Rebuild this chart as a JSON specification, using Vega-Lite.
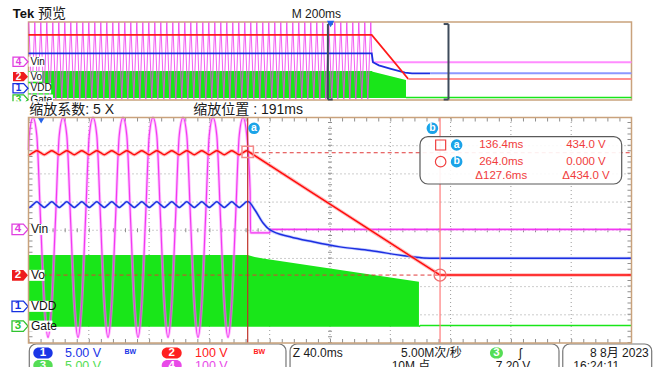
{
"$schema": "https://vega.github.io/schema/vega-lite/v6.json",
"width": 657, "height": 367, "autosize": "none", "padding": 0, "background": "#ffffff",
"config": {"view": {"stroke": null}, "font": "Liberation Sans, Noto Sans CJK SC"},
"datasets": {
"vin": [{"t":-9,"v":2.85},{"t":-8.49,"v":3.37},{"t":-6,"v":4.0},{"t":-3.51,"v":3.37},{"t":-1.03,"v":0.4},{"t":1.46,"v":-2.57},{"t":3.95,"v":-3.8},{"t":6.44,"v":-2.57},{"t":8.93,"v":0.4},{"t":11.41,"v":3.37},{"t":13.9,"v":4.0},{"t":16.39,"v":3.37},{"t":18.88,"v":0.4},{"t":21.36,"v":-2.57},{"t":23.85,"v":-3.8},{"t":26.34,"v":-2.57},{"t":28.83,"v":0.4},{"t":31.31,"v":3.37},{"t":33.8,"v":4.0},{"t":36.29,"v":3.37},{"t":38.78,"v":0.4},{"t":41.26,"v":-2.57},{"t":43.75,"v":-3.8},{"t":46.24,"v":-2.57},{"t":48.73,"v":0.4},{"t":51.21,"v":3.37},{"t":53.7,"v":4.0},{"t":56.19,"v":3.37},{"t":58.68,"v":0.4},{"t":61.16,"v":-2.57},{"t":63.65,"v":-3.8},{"t":66.14,"v":-2.57},{"t":68.63,"v":0.4},{"t":71.11,"v":3.37},{"t":73.6,"v":4.0},{"t":76.09,"v":3.37},{"t":78.58,"v":0.4},{"t":81.06,"v":-2.57},{"t":83.55,"v":-3.8},{"t":86.04,"v":-2.57},{"t":88.53,"v":0.4},{"t":91.01,"v":3.37},{"t":93.5,"v":4.0},{"t":95.99,"v":3.37},{"t":98.48,"v":0.4},{"t":100.96,"v":-2.57},{"t":103.45,"v":-3.8},{"t":105.94,"v":-2.57},{"t":108.43,"v":0.4},{"t":110.91,"v":3.37},{"t":113.4,"v":4.0},{"t":115.89,"v":3.37},{"t":118.38,"v":0.4},{"t":120.86,"v":-2.57},{"t":123.35,"v":-3.8},{"t":125.84,"v":-2.57},{"t":128.33,"v":0.4},{"t":130.81,"v":3.37},{"t":133.3,"v":4.0},{"t":135.79,"v":3.37},{"t":138,"v":1.4},{"t":138.3,"v":-0.09},{"t":151,"v":-0.09},{"t":151.3,"v":0.03},{"t":391,"v":0.03}],
"vo": [{"t":-9,"v":2.7},{"t":-8.49,"v":2.68},{"t":-6,"v":2.75},{"t":-3.51,"v":2.82},{"t":-1.03,"v":2.75},{"t":1.46,"v":2.68},{"t":3.95,"v":2.75},{"t":6.44,"v":2.82},{"t":8.93,"v":2.75},{"t":11.41,"v":2.68},{"t":13.9,"v":2.75},{"t":16.39,"v":2.82},{"t":18.88,"v":2.75},{"t":21.36,"v":2.68},{"t":23.85,"v":2.75},{"t":26.34,"v":2.82},{"t":28.83,"v":2.75},{"t":31.31,"v":2.68},{"t":33.8,"v":2.75},{"t":36.29,"v":2.82},{"t":38.78,"v":2.75},{"t":41.26,"v":2.68},{"t":43.75,"v":2.75},{"t":46.24,"v":2.82},{"t":48.73,"v":2.75},{"t":51.21,"v":2.68},{"t":53.7,"v":2.75},{"t":56.19,"v":2.82},{"t":58.68,"v":2.75},{"t":61.16,"v":2.68},{"t":63.65,"v":2.75},{"t":66.14,"v":2.82},{"t":68.63,"v":2.75},{"t":71.11,"v":2.68},{"t":73.6,"v":2.75},{"t":76.09,"v":2.82},{"t":78.58,"v":2.75},{"t":81.06,"v":2.68},{"t":83.55,"v":2.75},{"t":86.04,"v":2.82},{"t":88.53,"v":2.75},{"t":91.01,"v":2.68},{"t":93.5,"v":2.75},{"t":95.99,"v":2.82},{"t":98.48,"v":2.75},{"t":100.96,"v":2.68},{"t":103.45,"v":2.75},{"t":105.94,"v":2.82},{"t":108.43,"v":2.75},{"t":110.91,"v":2.68},{"t":113.4,"v":2.75},{"t":115.89,"v":2.82},{"t":118.38,"v":2.75},{"t":120.86,"v":2.68},{"t":123.35,"v":2.75},{"t":125.84,"v":2.82},{"t":128.33,"v":2.75},{"t":130.81,"v":2.68},{"t":133.3,"v":2.75},{"t":135.79,"v":2.82},{"t":136.4,"v":2.81},{"t":137,"v":2.789},{"t":200,"v":0.617},{"t":263.5,"v":-1.573},{"t":264,"v":-1.59},{"t":391,"v":-1.59}],
"vdd": [{"t":-9,"v":0.82},{"t":-8.49,"v":0.81},{"t":-6,"v":0.91},{"t":-3.51,"v":1.01},{"t":-1.03,"v":0.91},{"t":1.46,"v":0.81},{"t":3.95,"v":0.91},{"t":6.44,"v":1.01},{"t":8.93,"v":0.91},{"t":11.41,"v":0.81},{"t":13.9,"v":0.91},{"t":16.39,"v":1.01},{"t":18.88,"v":0.91},{"t":21.36,"v":0.81},{"t":23.85,"v":0.91},{"t":26.34,"v":1.01},{"t":28.83,"v":0.91},{"t":31.31,"v":0.81},{"t":33.8,"v":0.91},{"t":36.29,"v":1.01},{"t":38.78,"v":0.91},{"t":41.26,"v":0.81},{"t":43.75,"v":0.91},{"t":46.24,"v":1.01},{"t":48.73,"v":0.91},{"t":51.21,"v":0.81},{"t":53.7,"v":0.91},{"t":56.19,"v":1.01},{"t":58.68,"v":0.91},{"t":61.16,"v":0.81},{"t":63.65,"v":0.91},{"t":66.14,"v":1.01},{"t":68.63,"v":0.91},{"t":71.11,"v":0.81},{"t":73.6,"v":0.91},{"t":76.09,"v":1.01},{"t":78.58,"v":0.91},{"t":81.06,"v":0.81},{"t":83.55,"v":0.91},{"t":86.04,"v":1.01},{"t":88.53,"v":0.91},{"t":91.01,"v":0.81},{"t":93.5,"v":0.91},{"t":95.99,"v":1.01},{"t":98.48,"v":0.91},{"t":100.96,"v":0.81},{"t":103.45,"v":0.91},{"t":105.94,"v":1.01},{"t":108.43,"v":0.91},{"t":110.91,"v":0.81},{"t":113.4,"v":0.91},{"t":115.89,"v":1.01},{"t":118.38,"v":0.91},{"t":120.86,"v":0.81},{"t":123.35,"v":0.91},{"t":125.84,"v":1.01},{"t":128.33,"v":0.91},{"t":130.81,"v":0.81},{"t":133.3,"v":0.91},{"t":135.79,"v":1.01},{"t":136.8,"v":1.01},{"t":141.2,"v":0.72},{"t":146.6,"v":0.26},{"t":151.2,"v":0.01},{"t":164.5,"v":-0.23},{"t":179.7,"v":-0.41},{"t":197.6,"v":-0.59},{"t":217.5,"v":-0.72},{"t":244.1,"v":-0.93},{"t":257.3,"v":-0.99},{"t":391,"v":-0.99}],
"gate": [{"t":-9,"v":-0.88,"b":-3.42},{"t":136.4,"v":-0.88,"b":-3.42},{"t":141,"v":-0.95,"b":-3.42},{"t":146.6,"v":-1.0,"b":-3.42},{"t":250,"v":-1.83,"b":-3.42}],
"gateT": [{"t":250,"v":-3.42},{"t":251,"v":-3.38},{"t":391,"v":-3.38}],
"grid": [{"t0":31,"t1":31,"v0":-4,"v1":4},{"t0":71,"t1":71,"v0":-4,"v1":4},{"t0":111,"t1":111,"v0":-4,"v1":4},{"t0":151,"t1":151,"v0":-4,"v1":4},{"t0":191,"t1":191,"v0":-4,"v1":4},{"t0":231,"t1":231,"v0":-4,"v1":4},{"t0":271,"t1":271,"v0":-4,"v1":4},{"t0":311,"t1":311,"v0":-4,"v1":4},{"t0":351,"t1":351,"v0":-4,"v1":4},{"t0":-9,"t1":391,"v0":-3,"v1":-3},{"t0":-9,"t1":391,"v0":-2,"v1":-2},{"t0":-9,"t1":391,"v0":-1,"v1":-1},{"t0":-9,"t1":391,"v0":0,"v1":0},{"t0":-9,"t1":391,"v0":1,"v1":1},{"t0":-9,"t1":391,"v0":2,"v1":2},{"t0":-9,"t1":391,"v0":3,"v1":3}],
"tickH": [{"t0":-9,"t1":391,"v0":0,"v1":0},{"t0":-9,"t1":391,"v0":3.93,"v1":3.93},{"t0":-9,"t1":391,"v0":-3.93,"v1":-3.93}],
"tickV": [{"t0":191,"t1":191,"v0":-4,"v1":4},{"t0":-7.67,"t1":-7.67,"v0":-4,"v1":4},{"t0":389.67,"t1":389.67,"v0":-4,"v1":4}],
"frameM": [{"t0":-9,"t1":391,"v0":-4,"v1":4}],
"curA": [{"t0":136.4,"t1":136.4,"v0":-4,"v1":4}],
"curB": [{"t0":264,"t1":264,"v0":-4,"v1":4}],
"dashR": [{"t0":-9,"t1":264,"v0":-1.59,"v1":-1.59},{"t0":136.4,"t1":391,"v0":2.75,"v1":2.75}],
"mkSq": [{"t":136.4,"v":2.78}],
"mkCi": [{"t":264,"v":-1.59}],
"rbox": [{"t0":250.7,"t1":384.5,"v0":1.641,"v1":3.319}],
"rSq": [{"t":264.4,"v":3.024}],
"rCi": [{"t":264.4,"v":2.432}],
"trigM": [{"t":-0.6,"v":3.9}],
"chan": [{"ch":"4","name":"Vin","t":-9,"v":0.03,"te":4.9,"ot":-1002,"ov":-0.07,"ote":-954},{"ch":"2","name":"Vo","t":-9,"v":-1.6,"te":1.6,"ot":-1002,"ov":-1.61,"ote":-957},{"ch":"1","name":"VDD","t":-9,"v":-2.7,"te":6.3,"ot":-1002,"ov":-2.8,"ote":-927},{"ch":"3","name":"Gate","t":-9,"v":-3.4,"te":6.9,"ot":-1002,"ov":-3.95,"ote":-921}],
"txt12": [{"t":166.3,"v":-4.355,"s":"Z 40.0ms"},{"t":238.1,"v":-4.355,"s":"5.00M次/秒"},{"t":231.9,"v":-4.8,"s":"10M 点"},{"t":300.9,"v":-4.8,"s":"7.20 V"},{"t":316.4,"v":-4.355,"s":"ʃ"},{"t":363.5,"v":-4.355,"s":"8 8月 2023"},{"t":352.4,"v":-4.8,"s":"16:24:11"},{"t":165.6,"v":7.672,"s":"M 200ms"}],
"txt14": [{"t":-8.47,"v":4.266,"s":"缩放系数: 5 X"},{"t":100.3,"v":4.266,"s":"缩放位置 :  191ms"},{"t":-2.7,"v":7.672,"s":"预览"}],
"tek": [{"t":-19.48,"v":7.672,"s":"Tek"}],
"stat": [{"ch":"1","t":15.2,"v":-4.355,"s":"5.00 V"},{"ch":"2","t":101.45,"v":-4.355,"s":"100 V"},{"ch":"3","t":15.2,"v":-4.8,"s":"5.00 V"},{"ch":"4","t":101.45,"v":-4.8,"s":"100 V"}],
"bw": [{"ch":"1","t":58.5,"v":-4.33,"s":"BW"},{"ch":"2","t":144.1,"v":-4.33,"s":"BW"}],
"pill": [{"ch":"1","t0":-5.82,"t1":7.05,"v0":-4.16,"v1":-4.55,"tc":0.62,"vc":-4.355,"n":"1"},{"ch":"2","t0":79.36,"t1":92.63,"v0":-4.16,"v1":-4.55,"tc":86,"vc":-4.355,"n":"2"},{"ch":"3","t0":-5.82,"t1":7.05,"v0":-4.603,"v1":-4.994,"tc":0.62,"vc":-4.8,"n":"3"},{"ch":"4","t0":79.36,"t1":92.63,"v0":-4.603,"v1":-4.994,"tc":86,"vc":-4.8,"n":"4"},{"ch":"3","t0":297.1,"t1":305.7,"v0":-4.16,"v1":-4.55,"tc":301.4,"vc":-4.355,"n":"3"}],
"sbox": [{"t0":-8.47,"t1":161.8,"v0":-4.035,"v1":-5.67},{"t0":164.5,"t1":342.9,"v0":-4.035,"v1":-5.67},{"t0":345.4,"t1":404.4,"v0":-4.035,"v1":-5.67}],
"rd": [{"t":304.6,"v":3.024,"s":"136.4ms"},{"t":360.8,"v":3.024,"s":"434.0 V"},{"t":304.6,"v":2.432,"s":"264.0ms"},{"t":360.8,"v":2.432,"s":"0.000 V"},{"t":304.6,"v":1.925,"s":"Δ127.6ms"},{"t":360.8,"v":1.925,"s":"Δ434.0 V"}],
"cl": [{"t":140.6,"v":3.617,"s":"a"},{"t":258.9,"v":3.617,"s":"b"},{"t":275,"v":3.024,"s":"a"},{"t":275,"v":2.432,"s":"b"}],
"frameO": [{"t0":-1002,"t1":998,"v0":-4,"v1":4}],
"cover": [{"t0":-1100,"t1":1100,"v0":-4.12,"v1":-5.72}],
"trigO": [{"t":0,"v":3.8}],
"ovVin": [{"t":-1001,"v":3.95},{"t":-991.05,"v":-3.9},{"t":-981.1,"v":3.95},{"t":-971.15,"v":-3.9},{"t":-961.2,"v":3.95},{"t":-951.25,"v":-3.9},{"t":-941.3,"v":3.95},{"t":-931.35,"v":-3.9},{"t":-921.4,"v":3.95},{"t":-911.45,"v":-3.9},{"t":-901.5,"v":3.95},{"t":-891.55,"v":-3.9},{"t":-881.6,"v":3.95},{"t":-871.65,"v":-3.9},{"t":-861.7,"v":3.95},{"t":-851.75,"v":-3.9},{"t":-841.8,"v":3.95},{"t":-831.85,"v":-3.9},{"t":-821.9,"v":3.95},{"t":-811.95,"v":-3.9},{"t":-802,"v":3.95},{"t":-792.05,"v":-3.9},{"t":-782.1,"v":3.95},{"t":-772.15,"v":-3.9},{"t":-762.2,"v":3.95},{"t":-752.25,"v":-3.9},{"t":-742.3,"v":3.95},{"t":-732.35,"v":-3.9},{"t":-722.4,"v":3.95},{"t":-712.45,"v":-3.9},{"t":-702.5,"v":3.95},{"t":-692.55,"v":-3.9},{"t":-682.6,"v":3.95},{"t":-672.65,"v":-3.9},{"t":-662.7,"v":3.95},{"t":-652.75,"v":-3.9},{"t":-642.8,"v":3.95},{"t":-632.85,"v":-3.9},{"t":-622.9,"v":3.95},{"t":-612.95,"v":-3.9},{"t":-603,"v":3.95},{"t":-593.05,"v":-3.9},{"t":-583.1,"v":3.95},{"t":-573.15,"v":-3.9},{"t":-563.2,"v":3.95},{"t":-553.25,"v":-3.9},{"t":-543.3,"v":3.95},{"t":-533.35,"v":-3.9},{"t":-523.4,"v":3.95},{"t":-513.45,"v":-3.9},{"t":-503.5,"v":3.95},{"t":-493.55,"v":-3.9},{"t":-483.6,"v":3.95},{"t":-473.65,"v":-3.9},{"t":-463.7,"v":3.95},{"t":-453.75,"v":-3.9},{"t":-443.8,"v":3.95},{"t":-433.85,"v":-3.9},{"t":-423.9,"v":3.95},{"t":-413.95,"v":-3.9},{"t":-404,"v":3.95},{"t":-394.05,"v":-3.9},{"t":-384.1,"v":3.95},{"t":-374.15,"v":-3.9},{"t":-364.2,"v":3.95},{"t":-354.25,"v":-3.9},{"t":-344.3,"v":3.95},{"t":-334.35,"v":-3.9},{"t":-324.4,"v":3.95},{"t":-314.45,"v":-3.9},{"t":-304.5,"v":3.95},{"t":-294.55,"v":-3.9},{"t":-284.6,"v":3.95},{"t":-274.65,"v":-3.9},{"t":-264.7,"v":3.95},{"t":-254.75,"v":-3.9},{"t":-244.8,"v":3.95},{"t":-234.85,"v":-3.9},{"t":-224.9,"v":3.95},{"t":-214.95,"v":-3.9},{"t":-205,"v":3.95},{"t":-195.05,"v":-3.9},{"t":-185.1,"v":3.95},{"t":-175.15,"v":-3.9},{"t":-165.2,"v":3.95},{"t":-155.25,"v":-3.9},{"t":-145.3,"v":3.95},{"t":-135.35,"v":-3.9},{"t":-125.4,"v":3.95},{"t":-115.45,"v":-3.9},{"t":-105.5,"v":3.95},{"t":-95.55,"v":-3.9},{"t":-85.6,"v":3.95},{"t":-75.65,"v":-3.9},{"t":-65.7,"v":3.95},{"t":-55.75,"v":-3.9},{"t":-45.8,"v":3.95},{"t":-35.85,"v":-3.9},{"t":-25.9,"v":3.95},{"t":-15.95,"v":-3.9},{"t":-6,"v":3.95},{"t":3.95,"v":-3.9},{"t":13.9,"v":3.95},{"t":23.85,"v":-3.9},{"t":33.8,"v":3.95},{"t":43.75,"v":-3.9},{"t":53.7,"v":3.95},{"t":63.65,"v":-3.9},{"t":73.6,"v":3.95},{"t":83.55,"v":-3.9},{"t":93.5,"v":3.95},{"t":103.45,"v":-3.9},{"t":113.4,"v":3.95},{"t":123.35,"v":-3.9},{"t":133.3,"v":3.95},{"t":136.4,"v":1.0},{"t":138.3,"v":-0.13}],
"ovVinT": [{"t":138.3,"v":-0.13},{"t":998,"v":-0.13}],
"ovVo": [{"t":-1002,"v":2.67},{"t":136.4,"v":2.67},{"t":257.7,"v":-1.85}],
"ovVoT": [{"t":257.7,"v":-1.85},{"t":998,"v":-1.85}],
"ovVdd": [{"t":-1002,"v":0.79},{"t":136.4,"v":0.79},{"t":140.6,"v":-0.13},{"t":160,"v":-0.45},{"t":200,"v":-0.8},{"t":246.8,"v":-1.2},{"t":270,"v":-1.26},{"t":330,"v":-1.26}],
"ovVddT": [{"t":330,"v":-1.26},{"t":998,"v":-1.26}],
"ovGate": [{"t":-1002,"v":-1.03,"b":-3.8},{"t":136.4,"v":-1.03,"b":-3.8},{"t":140,"v":-1.1,"b":-3.8},{"t":250,"v":-1.95,"b":-3.8}],
"ovGateT": [{"t":250,"v":-3.74},{"t":998,"v":-3.74}],
"brk": [{"t0":-9,"t1":-9,"v0":-3.95,"v1":3.79},{"t0":-9,"t1":7,"v0":3.79,"v1":3.79},{"t0":-9,"t1":7,"v0":-3.95,"v1":-3.95},{"t0":391,"t1":391,"v0":-3.95,"v1":3.79},{"t0":375,"t1":391,"v0":3.79,"v1":3.79},{"t0":375,"t1":391,"v0":-3.95,"v1":-3.95}]
},
"resolve": {"scale": {"x": "independent", "y": "independent"}},
"layer": [
{"data": {"name": "frameO"}, "mark": {"type": "rect", "fill": "#ffffff", "stroke": "#c9a27c", "strokeWidth": 1.5}, "encoding": {"x": {"field": "t0", "type": "quantitative", "scale": {"domain": [-1002, 998], "range": [28.5, 631.5], "nice": false, "zero": false}, "axis": null}, "x2": {"field": "t1"}, "y": {"field": "v0", "type": "quantitative", "scale": {"domain": [-4, 4], "range": [100, 22], "nice": false, "zero": false}, "axis": null}, "y2": {"field": "v1"}}},
{"data": {"name": "ovGate"}, "mark": {"type": "area", "color": "#19e619"}, "encoding": {"x": {"field": "t", "type": "quantitative", "scale": {"domain": [-1002, 998], "range": [28.5, 631.5], "nice": false, "zero": false}, "axis": null}, "y": {"field": "v", "type": "quantitative", "scale": {"domain": [-4, 4], "range": [100, 22], "nice": false, "zero": false}, "axis": null}, "y2": {"field": "b"}}},
{"data": {"name": "ovGateT"}, "mark": {"type": "line", "color": "#19e619", "strokeWidth": 1.5}, "encoding": {"x": {"field": "t", "type": "quantitative", "scale": {"domain": [-1002, 998], "range": [28.5, 631.5], "nice": false, "zero": false}, "axis": null}, "y": {"field": "v", "type": "quantitative", "scale": {"domain": [-4, 4], "range": [100, 22], "nice": false, "zero": false}, "axis": null}}},
{"data": {"name": "ovVin"}, "mark": {"type": "line", "color": "#f040f0", "strokeWidth": 1, "opacity": 0.85}, "encoding": {"x": {"field": "t", "type": "quantitative", "scale": {"domain": [-1002, 998], "range": [28.5, 631.5], "nice": false, "zero": false}, "axis": null}, "y": {"field": "v", "type": "quantitative", "scale": {"domain": [-4, 4], "range": [100, 22], "nice": false, "zero": false}, "axis": null}}},
{"data": {"name": "ovVinT"}, "mark": {"type": "line", "color": "#ff8cff", "strokeWidth": 2}, "encoding": {"x": {"field": "t", "type": "quantitative", "scale": {"domain": [-1002, 998], "range": [28.5, 631.5], "nice": false, "zero": false}, "axis": null}, "y": {"field": "v", "type": "quantitative", "scale": {"domain": [-4, 4], "range": [100, 22], "nice": false, "zero": false}, "axis": null}}},
{"data": {"name": "ovVdd"}, "mark": {"type": "line", "color": "#1c2fe0", "strokeWidth": 1.8}, "encoding": {"x": {"field": "t", "type": "quantitative", "scale": {"domain": [-1002, 998], "range": [28.5, 631.5], "nice": false, "zero": false}, "axis": null}, "y": {"field": "v", "type": "quantitative", "scale": {"domain": [-4, 4], "range": [100, 22], "nice": false, "zero": false}, "axis": null}}},
{"data": {"name": "ovVddT"}, "mark": {"type": "line", "color": "#8c98ff", "strokeWidth": 2}, "encoding": {"x": {"field": "t", "type": "quantitative", "scale": {"domain": [-1002, 998], "range": [28.5, 631.5], "nice": false, "zero": false}, "axis": null}, "y": {"field": "v", "type": "quantitative", "scale": {"domain": [-4, 4], "range": [100, 22], "nice": false, "zero": false}, "axis": null}}},
{"data": {"name": "ovVo"}, "mark": {"type": "line", "color": "#ff1a1a", "strokeWidth": 1.8}, "encoding": {"x": {"field": "t", "type": "quantitative", "scale": {"domain": [-1002, 998], "range": [28.5, 631.5], "nice": false, "zero": false}, "axis": null}, "y": {"field": "v", "type": "quantitative", "scale": {"domain": [-4, 4], "range": [100, 22], "nice": false, "zero": false}, "axis": null}}},
{"data": {"name": "ovVoT"}, "mark": {"type": "line", "color": "#ff9090", "strokeWidth": 2}, "encoding": {"x": {"field": "t", "type": "quantitative", "scale": {"domain": [-1002, 998], "range": [28.5, 631.5], "nice": false, "zero": false}, "axis": null}, "y": {"field": "v", "type": "quantitative", "scale": {"domain": [-4, 4], "range": [100, 22], "nice": false, "zero": false}, "axis": null}}},
{"data": {"name": "brk"}, "mark": {"type": "rule", "color": "#3e4b5b", "strokeWidth": 2}, "encoding": {"x": {"field": "t0", "type": "quantitative", "scale": {"domain": [-1002, 998], "range": [28.5, 631.5], "nice": false, "zero": false}, "axis": null}, "x2": {"field": "t1"}, "y": {"field": "v0", "type": "quantitative", "scale": {"domain": [-4, 4], "range": [100, 22], "nice": false, "zero": false}, "axis": null}, "y2": {"field": "v1"}}},
{"data": {"name": "trigO"}, "mark": {"type": "point", "shape": "triangle-down", "size": 55, "filled": true, "color": "#2563eb", "opacity": 1}, "encoding": {"x": {"field": "t", "type": "quantitative", "scale": {"domain": [-1002, 998], "range": [28.5, 631.5], "nice": false, "zero": false}, "axis": null}, "y": {"field": "v", "type": "quantitative", "scale": {"domain": [-4, 4], "range": [100, 22], "nice": false, "zero": false}, "axis": null}}},
{"data": {"name": "chan"}, "mark": {"type": "rule", "color": "#ffffff", "strokeWidth": 10}, "encoding": {"x": {"field": "ot", "type": "quantitative", "scale": {"domain": [-1002, 998], "range": [28.5, 631.5], "nice": false, "zero": false}, "axis": null}, "x2": {"field": "ote"}, "y": {"field": "ov", "type": "quantitative", "scale": {"domain": [-4, 4], "range": [100, 22], "nice": false, "zero": false}, "axis": null}}},
{"data": {"name": "chan"}, "mark": {"type": "text", "align": "left", "baseline": "middle", "fontSize": 10, "color": "#111111", "dx": 2}, "encoding": {"x": {"field": "ot", "type": "quantitative", "scale": {"domain": [-1002, 998], "range": [28.5, 631.5], "nice": false, "zero": false}, "axis": null}, "y": {"field": "ov", "type": "quantitative", "scale": {"domain": [-4, 4], "range": [100, 22], "nice": false, "zero": false}, "axis": null}, "text": {"field": "name"}}},
{"data": {"name": "chan"}, "transform": [{"filter": "datum.ch == '4'"}], "mark": {"type": "point", "shape": "M-1,-0.62L0.42,-0.62L1,0L0.42,0.62L-1,0.62Z", "size": 225, "filled": true, "fill": "#ffffff", "stroke": "#e03ee0", "strokeWidth": 1.3, "opacity": 1, "xOffset": -8}, "encoding": {"x": {"field": "ot", "type": "quantitative", "scale": {"domain": [-1002, 998], "range": [28.5, 631.5], "nice": false, "zero": false}, "axis": null}, "y": {"field": "ov", "type": "quantitative", "scale": {"domain": [-4, 4], "range": [100, 22], "nice": false, "zero": false}, "axis": null}}},
{"data": {"name": "chan"}, "transform": [{"filter": "datum.ch == '1'"}], "mark": {"type": "point", "shape": "M-1,-0.62L0.42,-0.62L1,0L0.42,0.62L-1,0.62Z", "size": 225, "filled": true, "fill": "#ffffff", "stroke": "#1530e0", "strokeWidth": 1.3, "opacity": 1, "xOffset": -8}, "encoding": {"x": {"field": "ot", "type": "quantitative", "scale": {"domain": [-1002, 998], "range": [28.5, 631.5], "nice": false, "zero": false}, "axis": null}, "y": {"field": "ov", "type": "quantitative", "scale": {"domain": [-4, 4], "range": [100, 22], "nice": false, "zero": false}, "axis": null}}},
{"data": {"name": "chan"}, "transform": [{"filter": "datum.ch == '3'"}], "mark": {"type": "point", "shape": "M-1,-0.62L0.42,-0.62L1,0L0.42,0.62L-1,0.62Z", "size": 225, "filled": true, "fill": "#ffffff", "stroke": "#2fc42f", "strokeWidth": 1.3, "opacity": 1, "xOffset": -8}, "encoding": {"x": {"field": "ot", "type": "quantitative", "scale": {"domain": [-1002, 998], "range": [28.5, 631.5], "nice": false, "zero": false}, "axis": null}, "y": {"field": "ov", "type": "quantitative", "scale": {"domain": [-4, 4], "range": [100, 22], "nice": false, "zero": false}, "axis": null}}},
{"data": {"name": "chan"}, "transform": [{"filter": "datum.ch == '2'"}], "mark": {"type": "point", "shape": "M-1,-0.62L0.42,-0.62L1,0L0.42,0.62L-1,0.62Z", "size": 225, "filled": true, "color": "#ee1c1c", "opacity": 1, "xOffset": -8}, "encoding": {"x": {"field": "ot", "type": "quantitative", "scale": {"domain": [-1002, 998], "range": [28.5, 631.5], "nice": false, "zero": false}, "axis": null}, "y": {"field": "ov", "type": "quantitative", "scale": {"domain": [-4, 4], "range": [100, 22], "nice": false, "zero": false}, "axis": null}}},
{"data": {"name": "chan"}, "transform": [{"filter": "datum.ch == '4'"}], "mark": {"type": "text", "align": "center", "baseline": "middle", "fontSize": 10, "fontWeight": "bold", "color": "#e03ee0", "dx": -10}, "encoding": {"x": {"field": "ot", "type": "quantitative", "scale": {"domain": [-1002, 998], "range": [28.5, 631.5], "nice": false, "zero": false}, "axis": null}, "y": {"field": "ov", "type": "quantitative", "scale": {"domain": [-4, 4], "range": [100, 22], "nice": false, "zero": false}, "axis": null}, "text": {"field": "ch"}}},
{"data": {"name": "chan"}, "transform": [{"filter": "datum.ch == '1'"}], "mark": {"type": "text", "align": "center", "baseline": "middle", "fontSize": 10, "fontWeight": "bold", "color": "#1530e0", "dx": -10}, "encoding": {"x": {"field": "ot", "type": "quantitative", "scale": {"domain": [-1002, 998], "range": [28.5, 631.5], "nice": false, "zero": false}, "axis": null}, "y": {"field": "ov", "type": "quantitative", "scale": {"domain": [-4, 4], "range": [100, 22], "nice": false, "zero": false}, "axis": null}, "text": {"field": "ch"}}},
{"data": {"name": "chan"}, "transform": [{"filter": "datum.ch == '3'"}], "mark": {"type": "text", "align": "center", "baseline": "middle", "fontSize": 10, "fontWeight": "bold", "color": "#2fc42f", "dx": -10}, "encoding": {"x": {"field": "ot", "type": "quantitative", "scale": {"domain": [-1002, 998], "range": [28.5, 631.5], "nice": false, "zero": false}, "axis": null}, "y": {"field": "ov", "type": "quantitative", "scale": {"domain": [-4, 4], "range": [100, 22], "nice": false, "zero": false}, "axis": null}, "text": {"field": "ch"}}},
{"data": {"name": "chan"}, "transform": [{"filter": "datum.ch == '2'"}], "mark": {"type": "text", "align": "center", "baseline": "middle", "fontSize": 10, "fontWeight": "bold", "color": "#ffffff", "dx": -10}, "encoding": {"x": {"field": "ot", "type": "quantitative", "scale": {"domain": [-1002, 998], "range": [28.5, 631.5], "nice": false, "zero": false}, "axis": null}, "y": {"field": "ov", "type": "quantitative", "scale": {"domain": [-4, 4], "range": [100, 22], "nice": false, "zero": false}, "axis": null}, "text": {"field": "ch"}}},
{"data": {"name": "cover"}, "mark": {"type": "rect", "fill": "#ffffff"}, "encoding": {"x": {"field": "t0", "type": "quantitative", "scale": {"domain": [-1002, 998], "range": [28.5, 631.5], "nice": false, "zero": false}, "axis": null}, "x2": {"field": "t1"}, "y": {"field": "v0", "type": "quantitative", "scale": {"domain": [-4, 4], "range": [100, 22], "nice": false, "zero": false}, "axis": null}, "y2": {"field": "v1"}}},

{"data": {"name": "grid"}, "mark": {"type": "rule", "color": "#9a9a9a", "strokeWidth": 1, "strokeDash": [1, 3]}, "encoding": {"x": {"field": "t0", "type": "quantitative", "scale": {"domain": [-9, 391], "range": [28.5, 631.5], "nice": false, "zero": false}, "axis": null}, "x2": {"field": "t1"}, "y": {"field": "v0", "type": "quantitative", "scale": {"domain": [-4, 4], "range": [343, 117.5], "nice": false, "zero": false}, "axis": null}, "y2": {"field": "v1"}}},
{"data": {"name": "tickH"}, "mark": {"type": "rule", "color": "#8f8f8f", "strokeWidth": 4, "strokeDash": [1, 11.06]}, "encoding": {"x": {"field": "t0", "type": "quantitative", "scale": {"domain": [-9, 391], "range": [28.5, 631.5], "nice": false, "zero": false}, "axis": null}, "x2": {"field": "t1"}, "y": {"field": "v0", "type": "quantitative", "scale": {"domain": [-4, 4], "range": [343, 117.5], "nice": false, "zero": false}, "axis": null}, "y2": {"field": "v1"}}},
{"data": {"name": "tickV"}, "mark": {"type": "rule", "color": "#8f8f8f", "strokeWidth": 4, "strokeDash": [1, 4.638]}, "encoding": {"x": {"field": "t0", "type": "quantitative", "scale": {"domain": [-9, 391], "range": [28.5, 631.5], "nice": false, "zero": false}, "axis": null}, "x2": {"field": "t1"}, "y": {"field": "v0", "type": "quantitative", "scale": {"domain": [-4, 4], "range": [343, 117.5], "nice": false, "zero": false}, "axis": null}, "y2": {"field": "v1"}}},
{"data": {"name": "gate"}, "mark": {"type": "area", "color": "#19e619"}, "encoding": {"x": {"field": "t", "type": "quantitative", "scale": {"domain": [-9, 391], "range": [28.5, 631.5], "nice": false, "zero": false}, "axis": null}, "y": {"field": "v", "type": "quantitative", "scale": {"domain": [-4, 4], "range": [343, 117.5], "nice": false, "zero": false}, "axis": null}, "y2": {"field": "b"}}},
{"data": {"name": "gateT"}, "mark": {"type": "line", "color": "#19e619", "strokeWidth": 1.5}, "encoding": {"x": {"field": "t", "type": "quantitative", "scale": {"domain": [-9, 391], "range": [28.5, 631.5], "nice": false, "zero": false}, "axis": null}, "y": {"field": "v", "type": "quantitative", "scale": {"domain": [-4, 4], "range": [343, 117.5], "nice": false, "zero": false}, "axis": null}}},
{"data": {"name": "dashR"}, "mark": {"type": "rule", "color": "#e03a3a", "strokeWidth": 1, "strokeDash": [4, 3]}, "encoding": {"x": {"field": "t0", "type": "quantitative", "scale": {"domain": [-9, 391], "range": [28.5, 631.5], "nice": false, "zero": false}, "axis": null}, "x2": {"field": "t1"}, "y": {"field": "v0", "type": "quantitative", "scale": {"domain": [-4, 4], "range": [343, 117.5], "nice": false, "zero": false}, "axis": null}, "y2": {"field": "v1"}}},
{"data": {"name": "vin"}, "mark": {"type": "line", "color": "#ff8cff", "strokeWidth": 3, "opacity": 0.55, "interpolate": "monotone"}, "encoding": {"x": {"field": "t", "type": "quantitative", "scale": {"domain": [-9, 391], "range": [28.5, 631.5], "nice": false, "zero": false}, "axis": null}, "y": {"field": "v", "type": "quantitative", "scale": {"domain": [-4, 4], "range": [343, 117.5], "nice": false, "zero": false}, "axis": null}}},
{"data": {"name": "vin"}, "mark": {"type": "line", "color": "#ee22ee", "strokeWidth": 1.2, "opacity": 0.85, "interpolate": "monotone"}, "encoding": {"x": {"field": "t", "type": "quantitative", "scale": {"domain": [-9, 391], "range": [28.5, 631.5], "nice": false, "zero": false}, "axis": null}, "y": {"field": "v", "type": "quantitative", "scale": {"domain": [-4, 4], "range": [343, 117.5], "nice": false, "zero": false}, "axis": null}}},
{"data": {"name": "vdd"}, "mark": {"type": "line", "color": "#8fa0ff", "strokeWidth": 3, "opacity": 0.5, "interpolate": "monotone"}, "encoding": {"x": {"field": "t", "type": "quantitative", "scale": {"domain": [-9, 391], "range": [28.5, 631.5], "nice": false, "zero": false}, "axis": null}, "y": {"field": "v", "type": "quantitative", "scale": {"domain": [-4, 4], "range": [343, 117.5], "nice": false, "zero": false}, "axis": null}}},
{"data": {"name": "vdd"}, "mark": {"type": "line", "color": "#1c2fe0", "strokeWidth": 1.5, "interpolate": "monotone"}, "encoding": {"x": {"field": "t", "type": "quantitative", "scale": {"domain": [-9, 391], "range": [28.5, 631.5], "nice": false, "zero": false}, "axis": null}, "y": {"field": "v", "type": "quantitative", "scale": {"domain": [-4, 4], "range": [343, 117.5], "nice": false, "zero": false}, "axis": null}}},
{"data": {"name": "vo"}, "mark": {"type": "line", "color": "#ff8a8a", "strokeWidth": 3.5, "opacity": 0.6, "interpolate": "monotone"}, "encoding": {"x": {"field": "t", "type": "quantitative", "scale": {"domain": [-9, 391], "range": [28.5, 631.5], "nice": false, "zero": false}, "axis": null}, "y": {"field": "v", "type": "quantitative", "scale": {"domain": [-4, 4], "range": [343, 117.5], "nice": false, "zero": false}, "axis": null}}},
{"data": {"name": "vo"}, "mark": {"type": "line", "color": "#ff0a0a", "strokeWidth": 1.4, "interpolate": "monotone"}, "encoding": {"x": {"field": "t", "type": "quantitative", "scale": {"domain": [-9, 391], "range": [28.5, 631.5], "nice": false, "zero": false}, "axis": null}, "y": {"field": "v", "type": "quantitative", "scale": {"domain": [-4, 4], "range": [343, 117.5], "nice": false, "zero": false}, "axis": null}}},
{"data": {"name": "curA"}, "mark": {"type": "rule", "color": "#c0302a", "strokeWidth": 1.2}, "encoding": {"x": {"field": "t0", "type": "quantitative", "scale": {"domain": [-9, 391], "range": [28.5, 631.5], "nice": false, "zero": false}, "axis": null}, "x2": {"field": "t1"}, "y": {"field": "v0", "type": "quantitative", "scale": {"domain": [-4, 4], "range": [343, 117.5], "nice": false, "zero": false}, "axis": null}, "y2": {"field": "v1"}}},
{"data": {"name": "curB"}, "mark": {"type": "rule", "color": "#ff7b7b", "strokeWidth": 1.2}, "encoding": {"x": {"field": "t0", "type": "quantitative", "scale": {"domain": [-9, 391], "range": [28.5, 631.5], "nice": false, "zero": false}, "axis": null}, "x2": {"field": "t1"}, "y": {"field": "v0", "type": "quantitative", "scale": {"domain": [-4, 4], "range": [343, 117.5], "nice": false, "zero": false}, "axis": null}, "y2": {"field": "v1"}}},
{"data": {"name": "mkSq"}, "mark": {"type": "point", "shape": "square", "size": 130, "filled": false, "stroke": "#f58a8a", "strokeWidth": 1.5, "opacity": 1}, "encoding": {"x": {"field": "t", "type": "quantitative", "scale": {"domain": [-9, 391], "range": [28.5, 631.5], "nice": false, "zero": false}, "axis": null}, "y": {"field": "v", "type": "quantitative", "scale": {"domain": [-4, 4], "range": [343, 117.5], "nice": false, "zero": false}, "axis": null}}},
{"data": {"name": "mkCi"}, "mark": {"type": "point", "shape": "circle", "size": 144, "filled": false, "stroke": "#f07070", "strokeWidth": 1.3, "opacity": 1}, "encoding": {"x": {"field": "t", "type": "quantitative", "scale": {"domain": [-9, 391], "range": [28.5, 631.5], "nice": false, "zero": false}, "axis": null}, "y": {"field": "v", "type": "quantitative", "scale": {"domain": [-4, 4], "range": [343, 117.5], "nice": false, "zero": false}, "axis": null}}},
{"data": {"name": "rbox"}, "mark": {"type": "rect", "fill": "#ffffff", "fillOpacity": 0.9, "stroke": "#5a5a5a", "strokeWidth": 1.2, "cornerRadius": 8}, "encoding": {"x": {"field": "t0", "type": "quantitative", "scale": {"domain": [-9, 391], "range": [28.5, 631.5], "nice": false, "zero": false}, "axis": null}, "x2": {"field": "t1"}, "y": {"field": "v0", "type": "quantitative", "scale": {"domain": [-4, 4], "range": [343, 117.5], "nice": false, "zero": false}, "axis": null}, "y2": {"field": "v1"}}},
{"data": {"name": "rSq"}, "mark": {"type": "point", "shape": "square", "size": 100, "filled": false, "stroke": "#f04040", "strokeWidth": 1.2, "opacity": 1}, "encoding": {"x": {"field": "t", "type": "quantitative", "scale": {"domain": [-9, 391], "range": [28.5, 631.5], "nice": false, "zero": false}, "axis": null}, "y": {"field": "v", "type": "quantitative", "scale": {"domain": [-4, 4], "range": [343, 117.5], "nice": false, "zero": false}, "axis": null}}},
{"data": {"name": "rCi"}, "mark": {"type": "point", "shape": "circle", "size": 110, "filled": false, "stroke": "#f04040", "strokeWidth": 1.2, "opacity": 1}, "encoding": {"x": {"field": "t", "type": "quantitative", "scale": {"domain": [-9, 391], "range": [28.5, 631.5], "nice": false, "zero": false}, "axis": null}, "y": {"field": "v", "type": "quantitative", "scale": {"domain": [-4, 4], "range": [343, 117.5], "nice": false, "zero": false}, "axis": null}}},
{"data": {"name": "rd"}, "mark": {"type": "text", "align": "center", "baseline": "middle", "fontSize": 11.5, "color": "#f03c3c"}, "encoding": {"x": {"field": "t", "type": "quantitative", "scale": {"domain": [-9, 391], "range": [28.5, 631.5], "nice": false, "zero": false}, "axis": null}, "y": {"field": "v", "type": "quantitative", "scale": {"domain": [-4, 4], "range": [343, 117.5], "nice": false, "zero": false}, "axis": null}, "text": {"field": "s"}}},
{"data": {"name": "cl"}, "mark": {"type": "point", "shape": "circle", "size": 135, "filled": true, "color": "#1aa3e8", "opacity": 1}, "encoding": {"x": {"field": "t", "type": "quantitative", "scale": {"domain": [-9, 391], "range": [28.5, 631.5], "nice": false, "zero": false}, "axis": null}, "y": {"field": "v", "type": "quantitative", "scale": {"domain": [-4, 4], "range": [343, 117.5], "nice": false, "zero": false}, "axis": null}}},
{"data": {"name": "cl"}, "mark": {"type": "text", "align": "center", "baseline": "middle", "fontSize": 10.5, "fontWeight": "bold", "color": "#ffffff", "dy": -0.5}, "encoding": {"x": {"field": "t", "type": "quantitative", "scale": {"domain": [-9, 391], "range": [28.5, 631.5], "nice": false, "zero": false}, "axis": null}, "y": {"field": "v", "type": "quantitative", "scale": {"domain": [-4, 4], "range": [343, 117.5], "nice": false, "zero": false}, "axis": null}, "text": {"field": "s"}}},
{"data": {"name": "chan"}, "mark": {"type": "rule", "color": "#ffffff", "strokeWidth": 11}, "encoding": {"x": {"field": "t", "type": "quantitative", "scale": {"domain": [-9, 391], "range": [28.5, 631.5], "nice": false, "zero": false}, "axis": null}, "x2": {"field": "te"}, "y": {"field": "v", "type": "quantitative", "scale": {"domain": [-4, 4], "range": [343, 117.5], "nice": false, "zero": false}, "axis": null}}},
{"data": {"name": "chan"}, "mark": {"type": "text", "align": "left", "baseline": "middle", "fontSize": 12, "color": "#111111", "dx": 2.5}, "encoding": {"x": {"field": "t", "type": "quantitative", "scale": {"domain": [-9, 391], "range": [28.5, 631.5], "nice": false, "zero": false}, "axis": null}, "y": {"field": "v", "type": "quantitative", "scale": {"domain": [-4, 4], "range": [343, 117.5], "nice": false, "zero": false}, "axis": null}, "text": {"field": "name"}}},
{"data": {"name": "chan"}, "transform": [{"filter": "datum.ch == '4'"}], "mark": {"type": "point", "shape": "M-1,-0.66L0.42,-0.66L1,0L0.42,0.66L-1,0.66Z", "size": 256, "filled": true, "fill": "#ffffff", "stroke": "#e03ee0", "strokeWidth": 1.3, "opacity": 1, "xOffset": -8.5}, "encoding": {"x": {"field": "t", "type": "quantitative", "scale": {"domain": [-9, 391], "range": [28.5, 631.5], "nice": false, "zero": false}, "axis": null}, "y": {"field": "v", "type": "quantitative", "scale": {"domain": [-4, 4], "range": [343, 117.5], "nice": false, "zero": false}, "axis": null}}},
{"data": {"name": "chan"}, "transform": [{"filter": "datum.ch == '1'"}], "mark": {"type": "point", "shape": "M-1,-0.66L0.42,-0.66L1,0L0.42,0.66L-1,0.66Z", "size": 256, "filled": true, "fill": "#ffffff", "stroke": "#1530e0", "strokeWidth": 1.3, "opacity": 1, "xOffset": -8.5}, "encoding": {"x": {"field": "t", "type": "quantitative", "scale": {"domain": [-9, 391], "range": [28.5, 631.5], "nice": false, "zero": false}, "axis": null}, "y": {"field": "v", "type": "quantitative", "scale": {"domain": [-4, 4], "range": [343, 117.5], "nice": false, "zero": false}, "axis": null}}},
{"data": {"name": "chan"}, "transform": [{"filter": "datum.ch == '3'"}], "mark": {"type": "point", "shape": "M-1,-0.66L0.42,-0.66L1,0L0.42,0.66L-1,0.66Z", "size": 256, "filled": true, "fill": "#ffffff", "stroke": "#2fc42f", "strokeWidth": 1.3, "opacity": 1, "xOffset": -8.5}, "encoding": {"x": {"field": "t", "type": "quantitative", "scale": {"domain": [-9, 391], "range": [28.5, 631.5], "nice": false, "zero": false}, "axis": null}, "y": {"field": "v", "type": "quantitative", "scale": {"domain": [-4, 4], "range": [343, 117.5], "nice": false, "zero": false}, "axis": null}}},
{"data": {"name": "chan"}, "transform": [{"filter": "datum.ch == '2'"}], "mark": {"type": "point", "shape": "M-1,-0.66L0.42,-0.66L1,0L0.42,0.66L-1,0.66Z", "size": 256, "filled": true, "color": "#ee1c1c", "opacity": 1, "xOffset": -8.5}, "encoding": {"x": {"field": "t", "type": "quantitative", "scale": {"domain": [-9, 391], "range": [28.5, 631.5], "nice": false, "zero": false}, "axis": null}, "y": {"field": "v", "type": "quantitative", "scale": {"domain": [-4, 4], "range": [343, 117.5], "nice": false, "zero": false}, "axis": null}}},
{"data": {"name": "chan"}, "transform": [{"filter": "datum.ch == '4'"}], "mark": {"type": "text", "align": "center", "baseline": "middle", "fontSize": 11.5, "fontWeight": "bold", "color": "#e03ee0", "dx": -10.5}, "encoding": {"x": {"field": "t", "type": "quantitative", "scale": {"domain": [-9, 391], "range": [28.5, 631.5], "nice": false, "zero": false}, "axis": null}, "y": {"field": "v", "type": "quantitative", "scale": {"domain": [-4, 4], "range": [343, 117.5], "nice": false, "zero": false}, "axis": null}, "text": {"field": "ch"}}},
{"data": {"name": "chan"}, "transform": [{"filter": "datum.ch == '1'"}], "mark": {"type": "text", "align": "center", "baseline": "middle", "fontSize": 11.5, "fontWeight": "bold", "color": "#1530e0", "dx": -10.5}, "encoding": {"x": {"field": "t", "type": "quantitative", "scale": {"domain": [-9, 391], "range": [28.5, 631.5], "nice": false, "zero": false}, "axis": null}, "y": {"field": "v", "type": "quantitative", "scale": {"domain": [-4, 4], "range": [343, 117.5], "nice": false, "zero": false}, "axis": null}, "text": {"field": "ch"}}},
{"data": {"name": "chan"}, "transform": [{"filter": "datum.ch == '3'"}], "mark": {"type": "text", "align": "center", "baseline": "middle", "fontSize": 11.5, "fontWeight": "bold", "color": "#2fc42f", "dx": -10.5}, "encoding": {"x": {"field": "t", "type": "quantitative", "scale": {"domain": [-9, 391], "range": [28.5, 631.5], "nice": false, "zero": false}, "axis": null}, "y": {"field": "v", "type": "quantitative", "scale": {"domain": [-4, 4], "range": [343, 117.5], "nice": false, "zero": false}, "axis": null}, "text": {"field": "ch"}}},
{"data": {"name": "chan"}, "transform": [{"filter": "datum.ch == '2'"}], "mark": {"type": "text", "align": "center", "baseline": "middle", "fontSize": 11.5, "fontWeight": "bold", "color": "#ffffff", "dx": -10.5}, "encoding": {"x": {"field": "t", "type": "quantitative", "scale": {"domain": [-9, 391], "range": [28.5, 631.5], "nice": false, "zero": false}, "axis": null}, "y": {"field": "v", "type": "quantitative", "scale": {"domain": [-4, 4], "range": [343, 117.5], "nice": false, "zero": false}, "axis": null}, "text": {"field": "ch"}}},
{"data": {"name": "trigM"}, "mark": {"type": "point", "shape": "triangle-down", "size": 55, "filled": true, "color": "#2563eb", "opacity": 1}, "encoding": {"x": {"field": "t", "type": "quantitative", "scale": {"domain": [-9, 391], "range": [28.5, 631.5], "nice": false, "zero": false}, "axis": null}, "y": {"field": "v", "type": "quantitative", "scale": {"domain": [-4, 4], "range": [343, 117.5], "nice": false, "zero": false}, "axis": null}}},
{"data": {"name": "sbox"}, "mark": {"type": "rect", "fill": "#ffffff", "fillOpacity": 0, "stroke": "#777777", "strokeWidth": 1.2, "cornerRadius": 7}, "encoding": {"x": {"field": "t0", "type": "quantitative", "scale": {"domain": [-9, 391], "range": [28.5, 631.5], "nice": false, "zero": false}, "axis": null}, "x2": {"field": "t1"}, "y": {"field": "v0", "type": "quantitative", "scale": {"domain": [-4, 4], "range": [343, 117.5], "nice": false, "zero": false}, "axis": null}, "y2": {"field": "v1"}}},
{"data": {"name": "pill"}, "transform": [{"filter": "datum.ch == '1'"}], "mark": {"type": "rect", "cornerRadius": 5.5, "color": "#1a35e6"}, "encoding": {"x": {"field": "t0", "type": "quantitative", "scale": {"domain": [-9, 391], "range": [28.5, 631.5], "nice": false, "zero": false}, "axis": null}, "x2": {"field": "t1"}, "y": {"field": "v0", "type": "quantitative", "scale": {"domain": [-4, 4], "range": [343, 117.5], "nice": false, "zero": false}, "axis": null}, "y2": {"field": "v1"}}},
{"data": {"name": "pill"}, "transform": [{"filter": "datum.ch == '2'"}], "mark": {"type": "rect", "cornerRadius": 5.5, "color": "#ff2020"}, "encoding": {"x": {"field": "t0", "type": "quantitative", "scale": {"domain": [-9, 391], "range": [28.5, 631.5], "nice": false, "zero": false}, "axis": null}, "x2": {"field": "t1"}, "y": {"field": "v0", "type": "quantitative", "scale": {"domain": [-4, 4], "range": [343, 117.5], "nice": false, "zero": false}, "axis": null}, "y2": {"field": "v1"}}},
{"data": {"name": "pill"}, "transform": [{"filter": "datum.ch == '3'"}], "mark": {"type": "rect", "cornerRadius": 5.5, "color": "#55dd55"}, "encoding": {"x": {"field": "t0", "type": "quantitative", "scale": {"domain": [-9, 391], "range": [28.5, 631.5], "nice": false, "zero": false}, "axis": null}, "x2": {"field": "t1"}, "y": {"field": "v0", "type": "quantitative", "scale": {"domain": [-4, 4], "range": [343, 117.5], "nice": false, "zero": false}, "axis": null}, "y2": {"field": "v1"}}},
{"data": {"name": "pill"}, "transform": [{"filter": "datum.ch == '4'"}], "mark": {"type": "rect", "cornerRadius": 5.5, "color": "#e84ae8"}, "encoding": {"x": {"field": "t0", "type": "quantitative", "scale": {"domain": [-9, 391], "range": [28.5, 631.5], "nice": false, "zero": false}, "axis": null}, "x2": {"field": "t1"}, "y": {"field": "v0", "type": "quantitative", "scale": {"domain": [-4, 4], "range": [343, 117.5], "nice": false, "zero": false}, "axis": null}, "y2": {"field": "v1"}}},
{"data": {"name": "pill"}, "mark": {"type": "text", "align": "center", "baseline": "middle", "fontSize": 11.5, "fontWeight": "bold", "color": "#ffffff"}, "encoding": {"x": {"field": "tc", "type": "quantitative", "scale": {"domain": [-9, 391], "range": [28.5, 631.5], "nice": false, "zero": false}, "axis": null}, "y": {"field": "vc", "type": "quantitative", "scale": {"domain": [-4, 4], "range": [343, 117.5], "nice": false, "zero": false}, "axis": null}, "text": {"field": "n"}}},
{"data": {"name": "stat"}, "transform": [{"filter": "datum.ch == '1'"}], "mark": {"type": "text", "align": "left", "baseline": "middle", "fontSize": 12.5, "color": "#1a35e6"}, "encoding": {"x": {"field": "t", "type": "quantitative", "scale": {"domain": [-9, 391], "range": [28.5, 631.5], "nice": false, "zero": false}, "axis": null}, "y": {"field": "v", "type": "quantitative", "scale": {"domain": [-4, 4], "range": [343, 117.5], "nice": false, "zero": false}, "axis": null}, "text": {"field": "s"}}},
{"data": {"name": "stat"}, "transform": [{"filter": "datum.ch == '2'"}], "mark": {"type": "text", "align": "left", "baseline": "middle", "fontSize": 12.5, "color": "#ff2020"}, "encoding": {"x": {"field": "t", "type": "quantitative", "scale": {"domain": [-9, 391], "range": [28.5, 631.5], "nice": false, "zero": false}, "axis": null}, "y": {"field": "v", "type": "quantitative", "scale": {"domain": [-4, 4], "range": [343, 117.5], "nice": false, "zero": false}, "axis": null}, "text": {"field": "s"}}},
{"data": {"name": "stat"}, "transform": [{"filter": "datum.ch == '3'"}], "mark": {"type": "text", "align": "left", "baseline": "middle", "fontSize": 12.5, "color": "#55dd55"}, "encoding": {"x": {"field": "t", "type": "quantitative", "scale": {"domain": [-9, 391], "range": [28.5, 631.5], "nice": false, "zero": false}, "axis": null}, "y": {"field": "v", "type": "quantitative", "scale": {"domain": [-4, 4], "range": [343, 117.5], "nice": false, "zero": false}, "axis": null}, "text": {"field": "s"}}},
{"data": {"name": "stat"}, "transform": [{"filter": "datum.ch == '4'"}], "mark": {"type": "text", "align": "left", "baseline": "middle", "fontSize": 12.5, "color": "#e84ae8"}, "encoding": {"x": {"field": "t", "type": "quantitative", "scale": {"domain": [-9, 391], "range": [28.5, 631.5], "nice": false, "zero": false}, "axis": null}, "y": {"field": "v", "type": "quantitative", "scale": {"domain": [-4, 4], "range": [343, 117.5], "nice": false, "zero": false}, "axis": null}, "text": {"field": "s"}}},
{"data": {"name": "bw"}, "transform": [{"filter": "datum.ch == '1'"}], "mark": {"type": "text", "align": "center", "baseline": "middle", "fontSize": 7, "fontWeight": "bold", "color": "#1a35e6"}, "encoding": {"x": {"field": "t", "type": "quantitative", "scale": {"domain": [-9, 391], "range": [28.5, 631.5], "nice": false, "zero": false}, "axis": null}, "y": {"field": "v", "type": "quantitative", "scale": {"domain": [-4, 4], "range": [343, 117.5], "nice": false, "zero": false}, "axis": null}, "text": {"field": "s"}}},
{"data": {"name": "bw"}, "transform": [{"filter": "datum.ch == '2'"}], "mark": {"type": "text", "align": "center", "baseline": "middle", "fontSize": 7, "fontWeight": "bold", "color": "#ff2020"}, "encoding": {"x": {"field": "t", "type": "quantitative", "scale": {"domain": [-9, 391], "range": [28.5, 631.5], "nice": false, "zero": false}, "axis": null}, "y": {"field": "v", "type": "quantitative", "scale": {"domain": [-4, 4], "range": [343, 117.5], "nice": false, "zero": false}, "axis": null}, "text": {"field": "s"}}},
{"data": {"name": "txt12"}, "mark": {"type": "text", "align": "left", "baseline": "middle", "fontSize": 12, "color": "#1a1a1a"}, "encoding": {"x": {"field": "t", "type": "quantitative", "scale": {"domain": [-9, 391], "range": [28.5, 631.5], "nice": false, "zero": false}, "axis": null}, "y": {"field": "v", "type": "quantitative", "scale": {"domain": [-4, 4], "range": [343, 117.5], "nice": false, "zero": false}, "axis": null}, "text": {"field": "s"}}},
{"data": {"name": "txt14"}, "mark": {"type": "text", "align": "left", "baseline": "middle", "fontSize": 14, "color": "#1a1a1a"}, "encoding": {"x": {"field": "t", "type": "quantitative", "scale": {"domain": [-9, 391], "range": [28.5, 631.5], "nice": false, "zero": false}, "axis": null}, "y": {"field": "v", "type": "quantitative", "scale": {"domain": [-4, 4], "range": [343, 117.5], "nice": false, "zero": false}, "axis": null}, "text": {"field": "s"}}},
{"data": {"name": "tek"}, "mark": {"type": "text", "align": "left", "baseline": "middle", "fontSize": 13, "fontWeight": "bold", "color": "#111111"}, "encoding": {"x": {"field": "t", "type": "quantitative", "scale": {"domain": [-9, 391], "range": [28.5, 631.5], "nice": false, "zero": false}, "axis": null}, "y": {"field": "v", "type": "quantitative", "scale": {"domain": [-4, 4], "range": [343, 117.5], "nice": false, "zero": false}, "axis": null}, "text": {"field": "s"}}},
{"data": {"name": "frameM"}, "mark": {"type": "rect", "fill": "#ffffff", "fillOpacity": 0, "stroke": "#c9a27c", "strokeWidth": 1.5}, "encoding": {"x": {"field": "t0", "type": "quantitative", "scale": {"domain": [-9, 391], "range": [28.5, 631.5], "nice": false, "zero": false}, "axis": null}, "x2": {"field": "t1"}, "y": {"field": "v0", "type": "quantitative", "scale": {"domain": [-4, 4], "range": [343, 117.5], "nice": false, "zero": false}, "axis": null}, "y2": {"field": "v1"}}}
]
}
